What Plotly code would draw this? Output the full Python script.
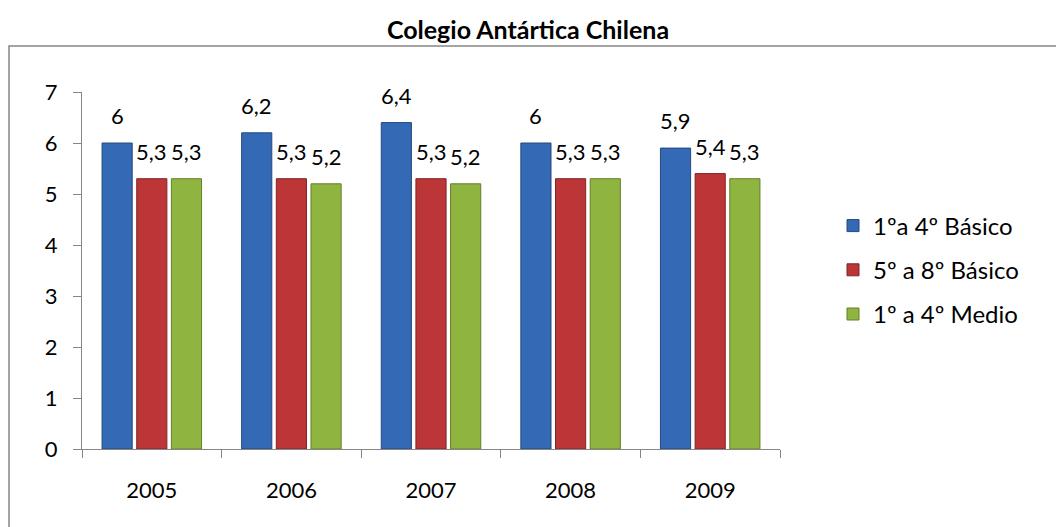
import plotly.graph_objects as go

years = ["2005", "2006", "2007", "2008", "2009"]
basico_1_4 = [6.0, 6.2, 6.4, 6.0, 5.9]
basico_5_8 = [5.3, 5.3, 5.3, 5.3, 5.4]
medio_1_4 = [5.3, 5.2, 5.2, 5.3, 5.3]
series_names = ["1ºa 4º Básico", "5º a 8º Básico", "1º a 4º Medio"]
colors = ["#3469B6", "#BC3537", "#8FB43F"]
line_colors = ["#24497F", "#832426", "#63802A"]

FONT = "Lato"

def lab(v):
    return f"{v:g}".replace(".", ",")

L, R, T, B = 82, 276, 92, 78
W, H = 1056, 527
pw, ph = W - L - R, H - T - B
BARGAP = 0.255
BARGROUPGAP = 0.13

series = [basico_1_4, basico_5_8, medio_1_4]
fig = go.Figure()
for i, (name, vals, c, lc) in enumerate(zip(series_names, series, colors, line_colors)):
    fig.add_trace(go.Bar(
        x=years, y=vals, name=name, legendgroup=name,
        marker=dict(color=c, line=dict(color=lc, width=1)),
    ))

cat_w = pw / len(years)
slot_w = cat_w * (1 - BARGAP) / len(series)
annotations = []
for i, vals in enumerate(series):
    for j, (yr, v) in enumerate(zip(years, vals)):
        annotations.append(dict(
            x=j, y=v, xref="x", yref="y", text=lab(v), showarrow=False,
            xanchor="center", yanchor="bottom", xshift=(i - 1) * slot_w, yshift=12,
            font=dict(family=FONT, size=22, color="#000000"),
        ))

fig.update_layout(
    width=W, height=H,
    margin=dict(l=L, r=R, t=T, b=B, pad=0),
    paper_bgcolor="white", plot_bgcolor="white",
    barmode="group", bargap=BARGAP, bargroupgap=BARGROUPGAP,
    font=dict(family=FONT, size=22, color="#000000"),
    title=dict(text="<b>Colegio Antártica Chilena</b>", x=0.5, xanchor="center",
               y=1 - 30 / H, yanchor="middle", font=dict(family=FONT, size=25)),
    showlegend=True,
    legend=dict(x=(833 - L) / pw, xanchor="left", y=(449 - 270) / ph, yanchor="middle",
                font=dict(family=FONT, size=24), traceorder="grouped", tracegroupgap=10,
                itemwidth=30, bgcolor="rgba(0,0,0,0)"),
    xaxis=dict(type="category", showline=True, linecolor="#868686", linewidth=1, ticks="outside",
               tickson="boundaries", ticklen=8, tickcolor="#868686", showgrid=False,
               ticklabelstandoff=22, tickfont=dict(family=FONT, size=22)),
    yaxis=dict(range=[0, 7], dtick=1, showline=True, linecolor="#868686", linewidth=1,
               ticks="outside", ticklen=8, tickcolor="#868686", showgrid=False,
               zeroline=False, ticklabelstandoff=11, tickfont=dict(family=FONT, size=22)),
    annotations=annotations,
    shapes=[dict(type="rect", xref="paper", yref="paper",
                 x0=(9 - L) / pw, x1=(1070 - L) / pw,
                 y0=(449 - 560) / ph, y1=(449 - 46) / ph,
                 line=dict(color="#868686", width=1.5), layer="below")],
)

fig.write_html("out.html", config={"displayModeBar": False},
               post_script="document.body.style.margin='0';")
